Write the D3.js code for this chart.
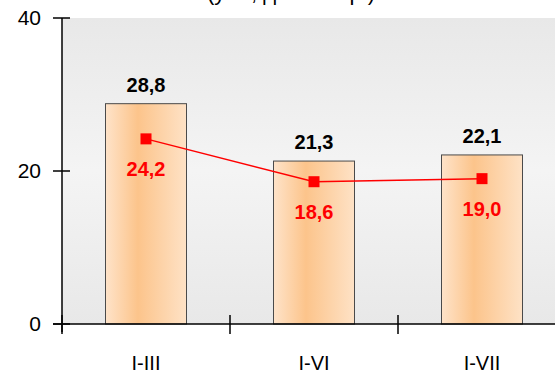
<!DOCTYPE html>
<html><head><meta charset="utf-8">
<script src="https://cdn.jsdelivr.net/npm/d3@7"></script>
<style>html,body{margin:0;padding:0;background:#fff;overflow:hidden}</style>
</head><body>
<script>
const categories = ["I-III", "I-VI", "I-VII"];
const barValues = [28.8, 21.3, 22.1];
const lineValues = [24.2, 18.6, 19.0];
const yTicks = [0, 20, 40];
const title = "(у %, до 2020 р.)";

const W = 555, H = 370;
const m = {left: 62, top: 18, bottom: 324, right: 566};
const svg = d3.select("body").append("svg").attr("width", W).attr("height", H)
  .style("font-family", "Arial, 'Liberation Sans', sans-serif");

const defs = svg.append("defs");
const bg = defs.append("linearGradient").attr("id", "bg").attr("x1", 0).attr("y1", 0).attr("x2", 0).attr("y2", 1);
bg.append("stop").attr("offset", "0%").attr("stop-color", "#e8e8e8");
bg.append("stop").attr("offset", "50%").attr("stop-color", "#f4f4f4");
bg.append("stop").attr("offset", "100%").attr("stop-color", "#e8e8e8");
const bf = defs.append("linearGradient").attr("id", "bar").attr("x1", 0).attr("y1", 0).attr("x2", 1).attr("y2", 0);
bf.append("stop").attr("offset", "0%").attr("stop-color", "#fee3c9");
bf.append("stop").attr("offset", "40%").attr("stop-color", "#fcc48b");
bf.append("stop").attr("offset", "100%").attr("stop-color", "#fee2c6");

const x = d3.scaleBand().domain(categories).range([m.left, m.right]).paddingInner(0).paddingOuter(0);
const y = d3.scaleLinear().domain([0, 40]).range([m.bottom, m.top]);
const barW = 81;

svg.append("rect").attr("x", m.left).attr("y", m.top).attr("width", W - m.left).attr("height", m.bottom - m.top)
  .attr("fill", "url(#bg)");

svg.append("text").attr("x", 291).attr("y", 0).attr("text-anchor", "middle")
  .attr("font-size", 22).attr("fill", "#000").text(title);

const cx = d => x(d) + x.bandwidth() / 2;

svg.selectAll("rect.bar").data(categories).enter().append("rect").attr("class", "bar")
  .attr("x", d => cx(d) - barW / 2).attr("width", barW)
  .attr("y", (d, i) => y(barValues[i])).attr("height", (d, i) => y(0) - y(barValues[i]))
  .attr("fill", "url(#bar)").attr("stroke", "#4a4a4a").attr("stroke-width", 1);

svg.selectAll("text.bl").data(categories).enter().append("text").attr("class", "bl")
  .attr("x", d => cx(d)).attr("y", (d, i) => y(barValues[i]) - 12)
  .attr("text-anchor", "middle").attr("font-size", 20).attr("font-weight", "bold").attr("fill", "#000")
  .text((d, i) => d3.format(".1f")(barValues[i]).replace(".", ","));

// Axes
const yAxis = d3.axisLeft(y).tickValues(yTicks).tickSize(0).tickPadding(21);
const gy = svg.append("g").attr("transform", `translate(${m.left},0)`).call(yAxis);
gy.select(".domain").remove();
gy.selectAll("text").attr("font-size", 21).attr("fill", "#000").attr("font-family", "Arial, 'Liberation Sans', sans-serif");
svg.append("line").attr("x1", m.left).attr("x2", m.left).attr("y1", m.top).attr("y2", m.bottom + 8)
  .attr("stroke", "#000").attr("stroke-width", 1.5);
svg.selectAll("line.yt").data(yTicks).enter().append("line").attr("class", "yt")
  .attr("x1", m.left - 9).attr("x2", m.left + 8).attr("y1", d => y(d)).attr("y2", d => y(d))
  .attr("stroke", "#000").attr("stroke-width", 1.5);

svg.append("line").attr("x1", m.left - 9).attr("x2", W).attr("y1", m.bottom).attr("y2", m.bottom)
  .attr("stroke", "#000").attr("stroke-width", 1.5);
svg.selectAll("line.xt").data(categories).enter().append("line").attr("class", "xt")
  .attr("x1", d => x(d)).attr("x2", d => x(d)).attr("y1", m.bottom - 9).attr("y2", m.bottom + 10)
  .attr("stroke", "#000").attr("stroke-width", 1.5);
svg.selectAll("text.xl").data(categories).enter().append("text").attr("class", "xl")
  .attr("x", d => cx(d)).attr("y", 370).attr("text-anchor", "middle")
  .attr("font-size", 20).attr("fill", "#000").text(d => d);

// Line series
const line = d3.line().x((d, i) => cx(categories[i])).y(d => y(d));
svg.append("path").datum(lineValues).attr("d", line).attr("fill", "none")
  .attr("stroke", "#ff0000").attr("stroke-width", 1.5);
svg.selectAll("rect.mk").data(lineValues).enter().append("rect").attr("class", "mk")
  .attr("x", (d, i) => cx(categories[i]) - 5.5).attr("y", d => y(d) - 5.5)
  .attr("width", 11).attr("height", 11).attr("fill", "#ff0000");
svg.selectAll("text.ll").data(lineValues).enter().append("text").attr("class", "ll")
  .attr("x", (d, i) => cx(categories[i])).attr("y", d => y(d) + 37)
  .attr("text-anchor", "middle").attr("font-size", 20).attr("font-weight", "bold").attr("fill", "#ff0000")
  .text(d => d3.format(".1f")(d).replace(".", ","));
</script>
</body></html>
